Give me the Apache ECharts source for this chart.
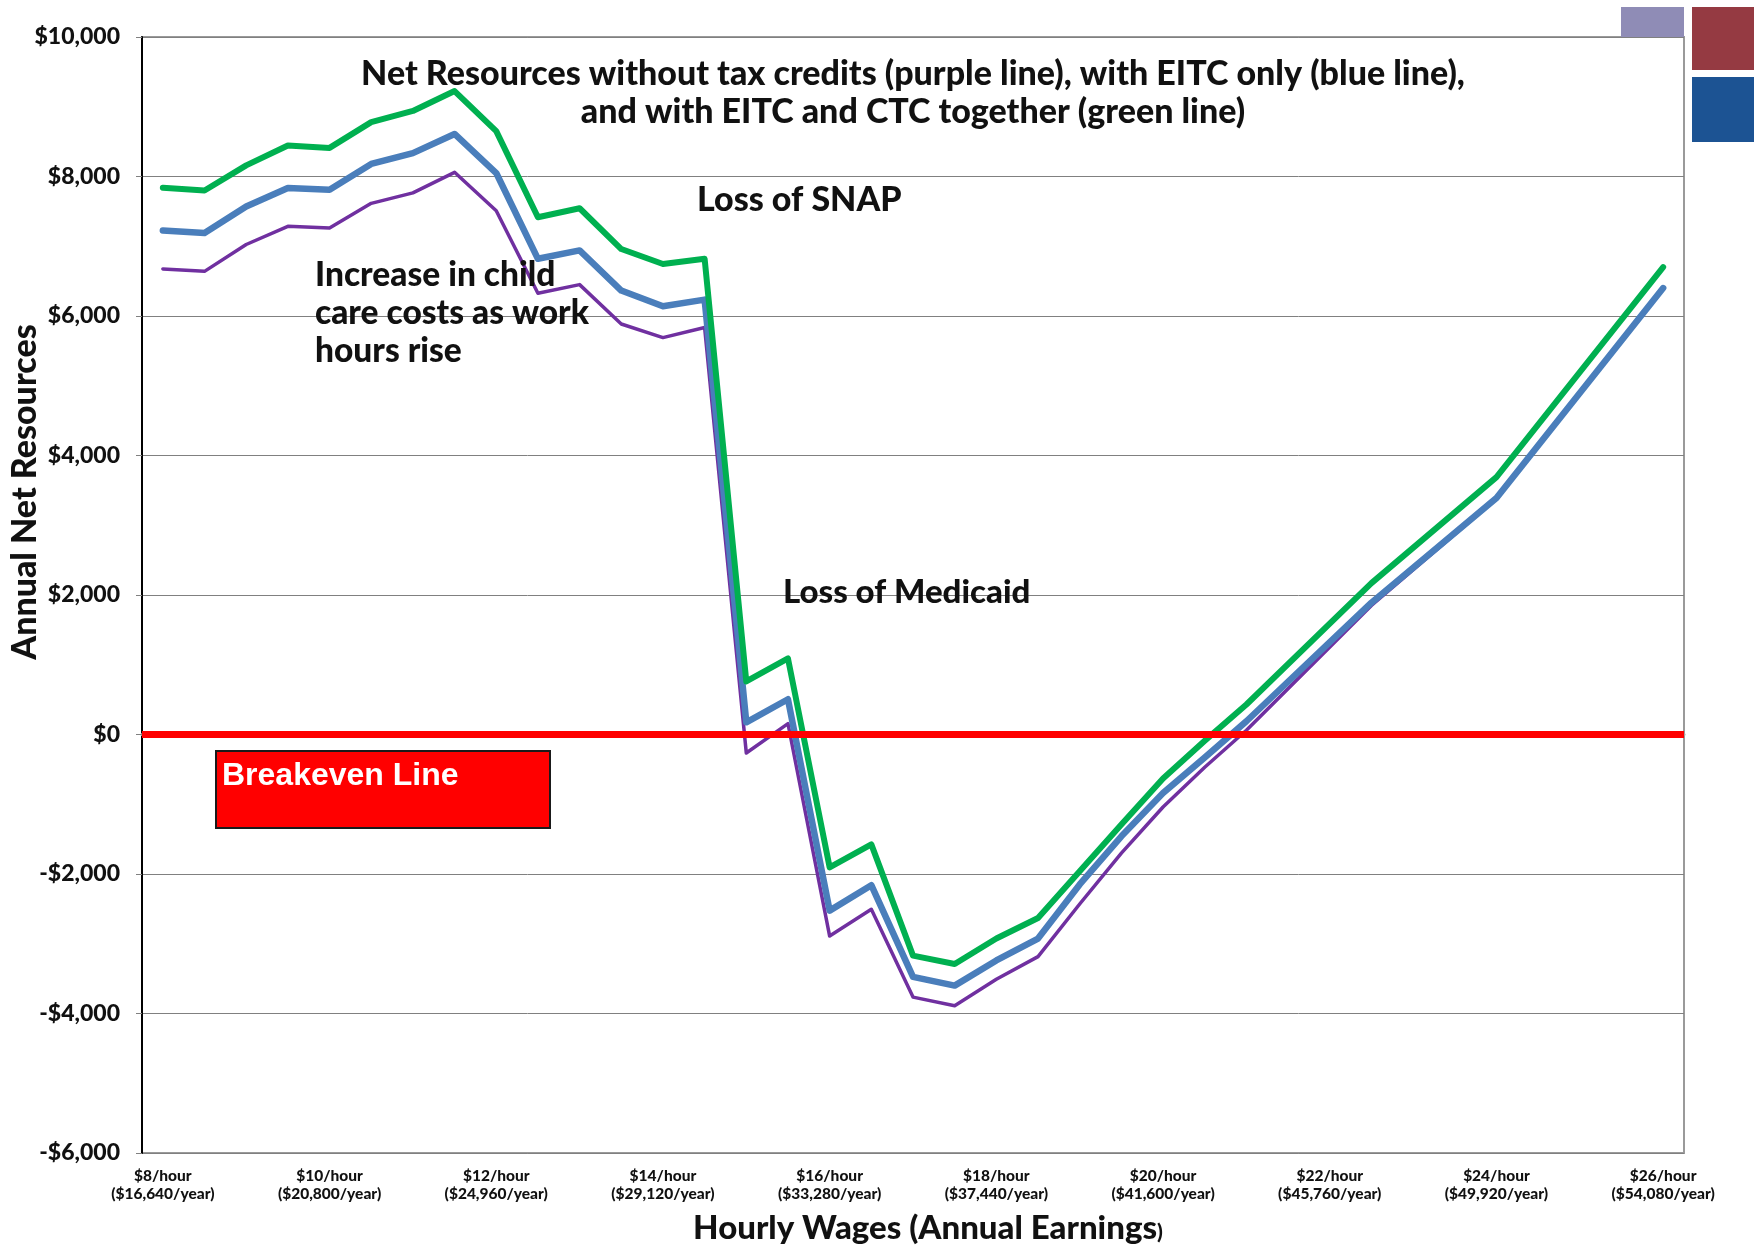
<!DOCTYPE html>
<html>
<head>
<meta charset="utf-8">
<title>Net Resources by Hourly Wage</title>
<script src="https://cdn.jsdelivr.net/npm/echarts@6/dist/echarts.min.js"></script>
<style>
  html, body { margin: 0; padding: 0; background: #ffffff; }
  #chart { width: 1754px; height: 1249px; }
</style>
</head>
<body>
<div id="chart"></div>
<script>
// Hourly wage for each category on the x axis ($0.50 steps)
const wages = [8, 8.5, 9, 9.5, 10, 10.5, 11, 11.5, 12, 12.5, 13, 13.5, 14, 14.5, 15, 15.5, 16, 16.5,
               17, 17.5, 18, 18.5, 19, 19.5, 20, 20.5, 21, 21.5, 22, 22.5, 23, 23.5, 24, 24.5, 25, 25.5, 26];

// Labels shown every fourth category ($2 steps)
const tickLabels = [
  '$8/hour\n($16,640/year)', '$10/hour\n($20,800/year)', '$12/hour\n($24,960/year)',
  '$14/hour\n($29,120/year)', '$16/hour\n($33,280/year)', '$18/hour\n($37,440/year)',
  '$20/hour\n($41,600/year)', '$22/hour\n($45,760/year)', '$24/hour\n($49,920/year)',
  '$26/hour\n($54,080/year)'
];

// Annual net resources ($); null = no point at that wage (line continues through)
const noCredits = [6675, 6640, 7025, 7285, 7260, 7615, 7765, 8060, 7510, 6325, 6450, 5885, 5690, 5835,
  -265, 155, -2890, -2505, -3765, -3890, -3510, -3185, -2430, -1700, -1040, -470, 60,
  null, null, 1850, null, null, 3380, null, null, null, 6390];

const eitcOnly = [7225, 7190, 7570, 7835, 7810, 8180, 8335, 8610, 8050, 6820, 6940, 6365, 6140, 6235,
  175, 505, -2525, -2160, -3475, -3600, -3240, -2925, -2150, -1460, -840, -330, 190,
  null, null, 1890, null, null, 3390, null, null, null, 6400];

const eitcCtc = [7840, 7800, 8160, 8445, 8410, 8780, 8940, 9225, 8650, 7415, 7545, 6960, 6745, 6820,
  760, 1090, -1905, -1575, -3170, -3290, -2925, -2630, -1960, -1290, -630, -90, 430,
  null, null, 2170, null, null, 3690, null, null, null, 6700];

const breakeven = 0;

const FONT = 'Lato, "Open Sans", sans-serif';
const HEAVY = '900 ';

const chart = echarts.init(document.getElementById('chart'), null, { renderer: 'canvas' });

function money(v) {
  const s = '$' + Math.abs(v).toLocaleString('en-US');
  return v < 0 ? '-' + s : s;
}

function lineSeries(name, data, color, width, z) {
  return {
    name: name,
    type: 'line',
    data: data,
    connectNulls: true,
    symbol: 'none',
    smooth: false,
    z: z,
    lineStyle: { color: color, width: width, cap: 'round', join: 'round' },
    emphasis: { disabled: true }
  };
}

function label(text, x, y, size, align) {
  return {
    type: 'text', x: x, y: y, z: 10,
    style: { text: text, textAlign: align || 'left', textVerticalAlign: 'middle',
             font: HEAVY + size + 'px ' + FONT, fill: '#111111' }
  };
}

chart.setOption({
  animation: false,
  backgroundColor: '#ffffff',
  grid: {
    left: 142, right: 70, top: 37, bottom: 96,
    show: true, borderColor: '#9a9a9a', borderWidth: 2, backgroundColor: 'transparent'
  },
  xAxis: {
    type: 'category',
    data: wages.map(String),
    boundaryGap: true,
    axisLine: { show: true, lineStyle: { color: '#a6a6a6', width: 3 } },
    axisTick: { show: false },
    axisLabel: {
      interval: 3,
      margin: 14,
      formatter: (v, i) => tickLabels[Math.round(i / 4)],
      fontFamily: FONT, fontWeight: 900, fontSize: 15.5, lineHeight: 18, color: '#111111'
    },
    splitLine: { show: false }
  },
  yAxis: {
    type: 'value',
    min: -6000, max: 10000, interval: 2000,
    axisLine: { show: true, lineStyle: { color: '#000000', width: 2 } },
    axisTick: { show: true, inside: false, length: 6, lineStyle: { color: '#808080', width: 1 } },
    axisLabel: {
      formatter: money, margin: 22,
      fontFamily: FONT, fontWeight: 900, fontSize: 23, color: '#111111'
    },
    splitLine: { show: true, lineStyle: { color: '#808080', width: 1 } }
  },
  series: [
    {
      name: 'Breakeven',
      type: 'line',
      data: [],
      z: 1,
      markLine: {
        silent: true,
        symbol: ['none', 'none'],
        label: { show: false },
        lineStyle: { color: '#ff0000', width: 7, type: 'solid' },
        data: [{ yAxis: breakeven }]
      }
    },
    lineSeries('Without tax credits', noCredits, '#7030a0', 3.5, 2),
    lineSeries('With EITC only', eitcOnly, '#4a7ebb', 6.5, 3),
    lineSeries('With EITC and CTC', eitcCtc, '#00b050', 6, 4)
  ],
  graphic: [
    // slide corner blocks
    { type: 'rect', shape: { x: 1621, y: 7, width: 63, height: 30 }, style: { fill: '#8f8cb6' }, z: 0 },
    { type: 'rect', shape: { x: 1692, y: 7, width: 62, height: 63 }, style: { fill: '#953a42' }, z: 0 },
    { type: 'rect', shape: { x: 1692, y: 77, width: 62, height: 65 }, style: { fill: '#1c5393' }, z: 0 },

    // chart heading inside plot
    label('Net Resources without tax credits (purple line), with EITC only (blue line),', 913, 74, 34, 'center'),
    label('and with EITC and CTC together (green line)', 913, 112, 34, 'center'),

    // event annotations
    label('Loss of SNAP', 697, 200, 34),
    label('Increase in child', 315, 275, 33.5),
    label('care costs as work', 315, 313, 33.5),
    label('hours rise', 315, 351, 33.5),
    label('Loss of Medicaid', 783, 592, 33),

    // breakeven callout box
    { type: 'rect', shape: { x: 216, y: 751, width: 334, height: 77 }, z: 10,
      style: { fill: '#ff0000', stroke: '#1a1a1a', lineWidth: 2 } },
    { type: 'text', x: 222, y: 776, z: 11,
      style: { text: 'Breakeven Line', textAlign: 'left', textVerticalAlign: 'middle',
               font: 'bold 32px "Liberation Sans", Arial, sans-serif', fill: '#ffffff' } },

    // axis titles
    { type: 'text', x: 25, y: 492, rotation: Math.PI / 2, z: 10,
      style: { text: 'Annual Net Resources', textAlign: 'center', textVerticalAlign: 'middle',
               font: HEAVY + '34px ' + FONT, fill: '#111111' } },
    { type: 'text', x: 928, y: 1228, z: 10,
      style: { text: '{a|Hourly Wages (Annual Earnings}{b|)}', textAlign: 'center', textVerticalAlign: 'middle',
               rich: {
                 a: { font: HEAVY + '33px ' + FONT, fill: '#111111' },
                 b: { font: HEAVY + '21px ' + FONT, fill: '#111111', padding: [9, 0, 0, 0] }
               } } }
  ]
});
</script>
</body>
</html>
